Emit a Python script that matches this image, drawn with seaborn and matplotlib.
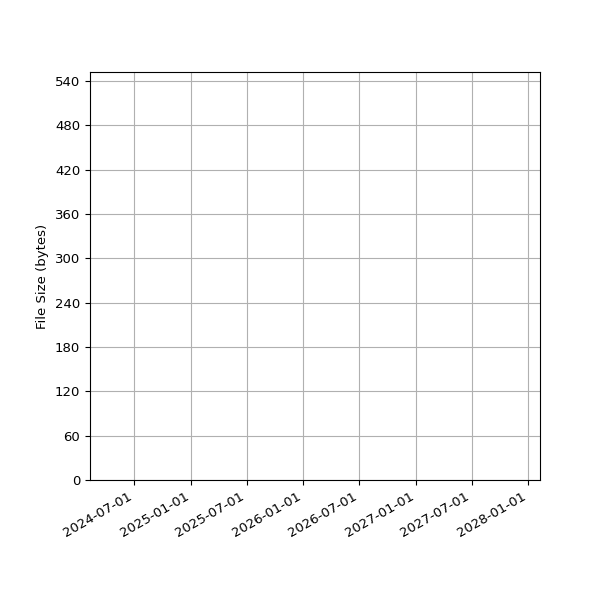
import matplotlib
matplotlib.use("Agg")
import matplotlib.pyplot as plt
import matplotlib.dates as mdates
from matplotlib.ticker import MultipleLocator
import seaborn as sns
import pandas as pd

# Data (the reference chart shows no plotted marks)
dates = pd.to_datetime(pd.Series([], dtype="datetime64[ns]"))
file_sizes = pd.Series([], dtype=float)

x_start = "2024-02-08"
x_end = "2028-02-08"
y_max = 552

plt.rcParams["font.size"] = 9.5

fig, ax = plt.subplots(figsize=(6, 6), dpi=100)
df = pd.DataFrame({"date": dates, "size": file_sizes})
sns.lineplot(data=df, x="date", y="size", ax=ax)

ax.set_xlim(pd.Timestamp(x_start), pd.Timestamp(x_end))
ax.set_ylim(0, y_max)
ax.yaxis.set_major_locator(MultipleLocator(60))
ax.xaxis.set_major_locator(mdates.MonthLocator(bymonth=[1, 7]))
ax.xaxis.set_major_formatter(mdates.DateFormatter("%Y-%m-%d"))
ax.grid(True, color="#b0b0b0", linewidth=0.8)
ax.set_xlabel("")
ax.set_ylabel("File Size (bytes)")
for lbl in ax.get_xticklabels():
    lbl.set_rotation(30)
    lbl.set_ha("right")
fig.subplots_adjust(left=0.15, right=0.9, top=0.88, bottom=0.2)
fig.savefig("out.png", dpi=100)
